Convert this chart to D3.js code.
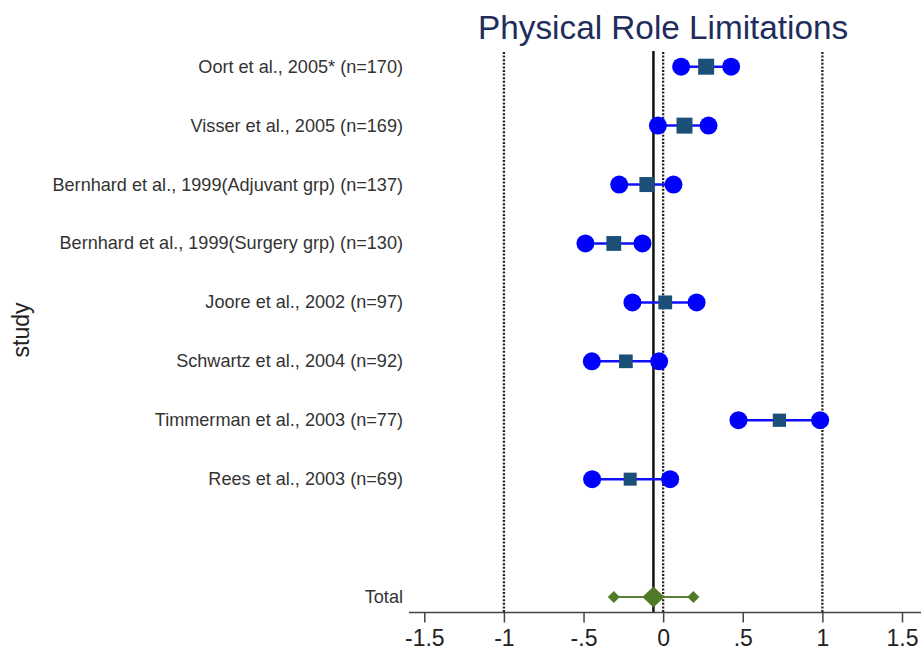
<!DOCTYPE html>
<html><head><meta charset="utf-8">
<script src="https://cdn.jsdelivr.net/npm/d3@7"></script>
<style>body{margin:0;background:#fff}svg{display:block}</style>
</head><body>
<script>
const studies = ["Oort et al., 2005* (n=170)","Visser et al., 2005 (n=169)","Bernhard et al., 1999(Adjuvant grp) (n=137)","Bernhard et al., 1999(Surgery grp) (n=130)","Joore et al., 2002 (n=97)","Schwartz et al., 2004 (n=92)","Timmerman et al., 2003 (n=77)","Rees et al., 2003 (n=69)"];
const nSizes = [170,169,137,130,97,92,77,69];
const estimates = [0.27,0.134,-0.102,-0.31,0.013,-0.234,0.73,-0.207];
const lower = [0.113,-0.033,-0.276,-0.488,-0.193,-0.448,0.473,-0.446];
const upper = [0.427,0.285,0.065,-0.13,0.21,-0.025,0.986,0.044];
const totalLabel = "Total";
const totalEst = -0.061, totalLow = -0.31, totalHigh = 0.19;
const refLines = [-1,0,1];
const tickValues = [-1.5,-1,-0.5,0,0.5,1,1.5];
const tickLabels = ["-1.5","-1","-.5","0",".5","1","1.5"];
const title = "Physical Role Limitations";
const yTitle = "study";

const W=921,H=651;
const svg=d3.select("body").append("svg").attr("width",W).attr("height",H);
const font="'Liberation Sans', Arial, Helvetica, sans-serif";
const x=d3.scaleLinear().domain([-1.5,1.5]).range([424.3,902]);
const y=d3.scaleLinear().domain([0,9]).range([66.7,597]);
const sq=d3.scaleLinear().domain([69,170]).range([13,16]);
const axisY=612.5, plotTop=52;

// title
svg.append("text").attr("x",x(0)).attr("y",38.5).attr("text-anchor","middle")
  .attr("font-family",font).attr("font-size",33.3).attr("fill","#1f2d5c").text(title);

// y title
svg.append("text").attr("transform","translate(29,330) rotate(-90)").attr("text-anchor","middle")
  .attr("font-family",font).attr("font-size",23).attr("fill","#222").text(yTitle);

// reference dotted lines
svg.selectAll("line.ref").data(refLines).enter().append("line")
  .attr("x1",d=>x(d)).attr("x2",d=>x(d)).attr("y1",plotTop).attr("y2",axisY)
  .attr("stroke","#222").attr("stroke-width",2.3).attr("stroke-dasharray","2,1.6");

// solid line at total estimate
svg.append("line").attr("x1",x(totalEst)).attr("x2",x(totalEst)).attr("y1",plotTop-1).attr("y2",axisY)
  .attr("stroke","#111").attr("stroke-width",2.5);

// axis
svg.append("line").attr("x1",409).attr("x2",W).attr("y1",axisY).attr("y2",axisY)
  .attr("stroke","#444").attr("stroke-width",1.5);
const ax=svg.append("g").attr("transform",`translate(0,${axisY})`)
  .call(d3.axisBottom(x).tickValues(tickValues).tickSize(10).tickPadding(7).tickFormat((d,i)=>tickLabels[i]));
ax.select(".domain").remove();
ax.selectAll("line").attr("stroke","#444").attr("stroke-width",1.5);
ax.selectAll("text").attr("font-family",font).attr("font-size",23).attr("fill","#222");

// study labels
const labels = studies.concat([totalLabel]);
const labelIdx = studies.map((d,i)=>i).concat([9]);
svg.selectAll("text.lab").data(labels).enter().append("text")
  .attr("x",403).attr("y",(d,i)=>y(labelIdx[i])+6).attr("text-anchor","end")
  .attr("font-family",font).attr("font-size",18.1).attr("fill","#333").text(d=>d);

// CI lines
const rows = studies.map((s,i)=>({i,est:estimates[i],lo:lower[i],hi:upper[i],n:nSizes[i]}));
svg.selectAll("line.ci").data(rows).enter().append("line")
  .attr("x1",d=>x(d.lo)).attr("x2",d=>x(d.hi)).attr("y1",d=>y(d.i)).attr("y2",d=>y(d.i))
  .attr("stroke","#1010ff").attr("stroke-width",2.5);
rows.forEach(d=>{
  [d.lo,d.hi].forEach(v=>{
    svg.append("circle").attr("cx",x(v)).attr("cy",y(d.i)).attr("r",9).attr("fill","#0000ff");
  });
});
svg.selectAll("rect.est").data(rows).enter().append("rect")
  .attr("x",d=>x(d.est)-sq(d.n)/2).attr("y",d=>y(d.i)-sq(d.n)/2)
  .attr("width",d=>sq(d.n)).attr("height",d=>sq(d.n)).attr("fill","#1c4f78");

// total
const ty=y(9);
svg.append("line").attr("x1",x(totalLow)).attr("x2",x(totalHigh)).attr("y1",ty).attr("y2",ty)
  .attr("stroke","#5a7f35").attr("stroke-width",2);
function diamond(cx,cy,w,h){return `M${cx-w/2},${cy}L${cx},${cy-h/2}L${cx+w/2},${cy}L${cx},${cy+h/2}Z`;}
[totalLow,totalHigh].forEach(v=>svg.append("path").attr("d",diamond(x(v),ty,12,12)).attr("fill","#4f7a28"));
svg.append("path").attr("d",diamond(x(totalEst),ty,22,21)).attr("fill","#4f7a28");
</script>
</body></html>
